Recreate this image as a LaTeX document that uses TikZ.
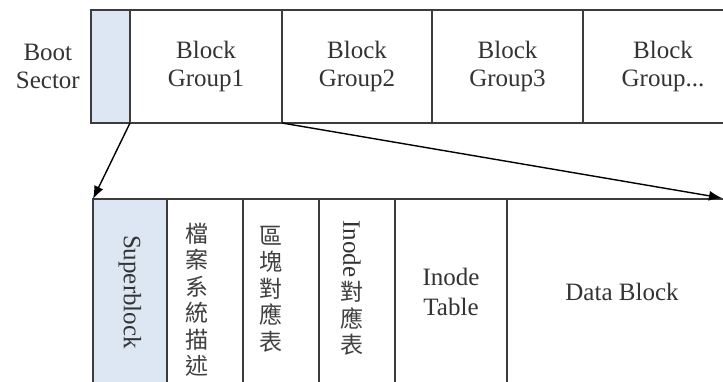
\documentclass[tikz,border=0pt]{standalone}
\usepackage{fontspec}
\setmainfont{Liberation Serif}
\newfontfamily\cjk{Noto Sans CJK TC}
\usepackage{graphicx}
\usepackage{tikz}
\usetikzlibrary{arrows.meta,positioning}
\definecolor{sbblue}{RGB}{221,231,243}
\definecolor{edgegray}{RGB}{60,60,60}
\tikzset{
  grpbox/.style={rectangle, draw=edgegray, line width=1.5pt, fill=#1,
                 minimum height=113pt, inner sep=0pt, outer sep=0pt,
                 align=center, font=\fontsize{25}{28}\selectfont, text=black!80},
  grpbox/.default=white,
  partbox/.style={rectangle, draw=edgegray, line width=1.5pt, fill=#1,
                  minimum height=186pt, inner sep=0pt, outer sep=0pt,
                  align=center, font=\fontsize{25}{30}\selectfont, text=black!80},
  partbox/.default=white,
  cjklbl/.style={align=center, inner sep=0pt, text=black!75,
                 font=\cjk\fontsize{23}{26.5}\selectfont},
  arr/.style={-{Latex[length=13pt,width=10pt]}, line width=1.4pt, draw=black},
}
\begin{document}
\begin{tikzpicture}[x=1pt, y=-1pt]
  \clip (0,0) rectangle (723,381);
  % top row: boot sector + block groups
  \node[grpbox=sbblue, minimum width=39pt, anchor=north west] (boot) at (91,10) {};
  \node[grpbox, minimum width=152pt, right=0pt of boot] (g1) {Block\\Group1};
  \node[grpbox, minimum width=150pt, right=0pt of g1]   (g2) {Block\\Group2};
  \node[grpbox, minimum width=151pt, right=0pt of g2]   (g3) {Block\\Group3};
  \node[grpbox, minimum width=160pt, right=0pt of g3]   (g4) {Block\\Group...};
  \node[align=center, inner sep=0pt, font=\fontsize{25}{28}\selectfont, text=black!80,
        left=11pt of boot] (bootlbl) {Boot\\Sector};
  % bottom row: inside one block group
  \node[partbox=sbblue, minimum width=74pt, anchor=north west] (sb) at (93,199)
        {\rotatebox{-90}{Superblock}};
  \node[partbox, minimum width=76pt,  right=0pt of sb]   (fsd)  {};
  \node[partbox, minimum width=76pt,  right=0pt of fsd]  (bmap) {};
  \node[partbox, minimum width=76pt,  right=0pt of bmap] (imap) {};
  \node[partbox, minimum width=112pt, right=0pt of imap] (itab) {Inode\\Table};
  \node[partbox, minimum width=230pt, right=0pt of itab] (data) {Data Block};
  \node[cjklbl] (fsdtxt)  at ([xshift=-8pt,yshift=-8pt]fsd.center)  {檔\\案\\系\\統\\描\\述};
  \node[cjklbl] (bmaptxt) at ([xshift=-10pt,yshift=3pt]bmap.center) {區\\塊\\對\\應\\表};
  \node[rotate=-90, anchor=west, inner sep=0pt, text=black!80,
        font=\fontsize{25}{28}\selectfont] (inodetxt) at (352,220) {Inode};
  \node[cjklbl, anchor=north] (imaptxt) at ([yshift=-4pt]inodetxt.east) {對\\應\\表};
  % arrows
  \coordinate (tip) at (722,198);
  \draw[arr] (boot.south east) -- (sb.north west);
  \draw[arr] (g1.south east) -- (tip);
\end{tikzpicture}
\end{document}
